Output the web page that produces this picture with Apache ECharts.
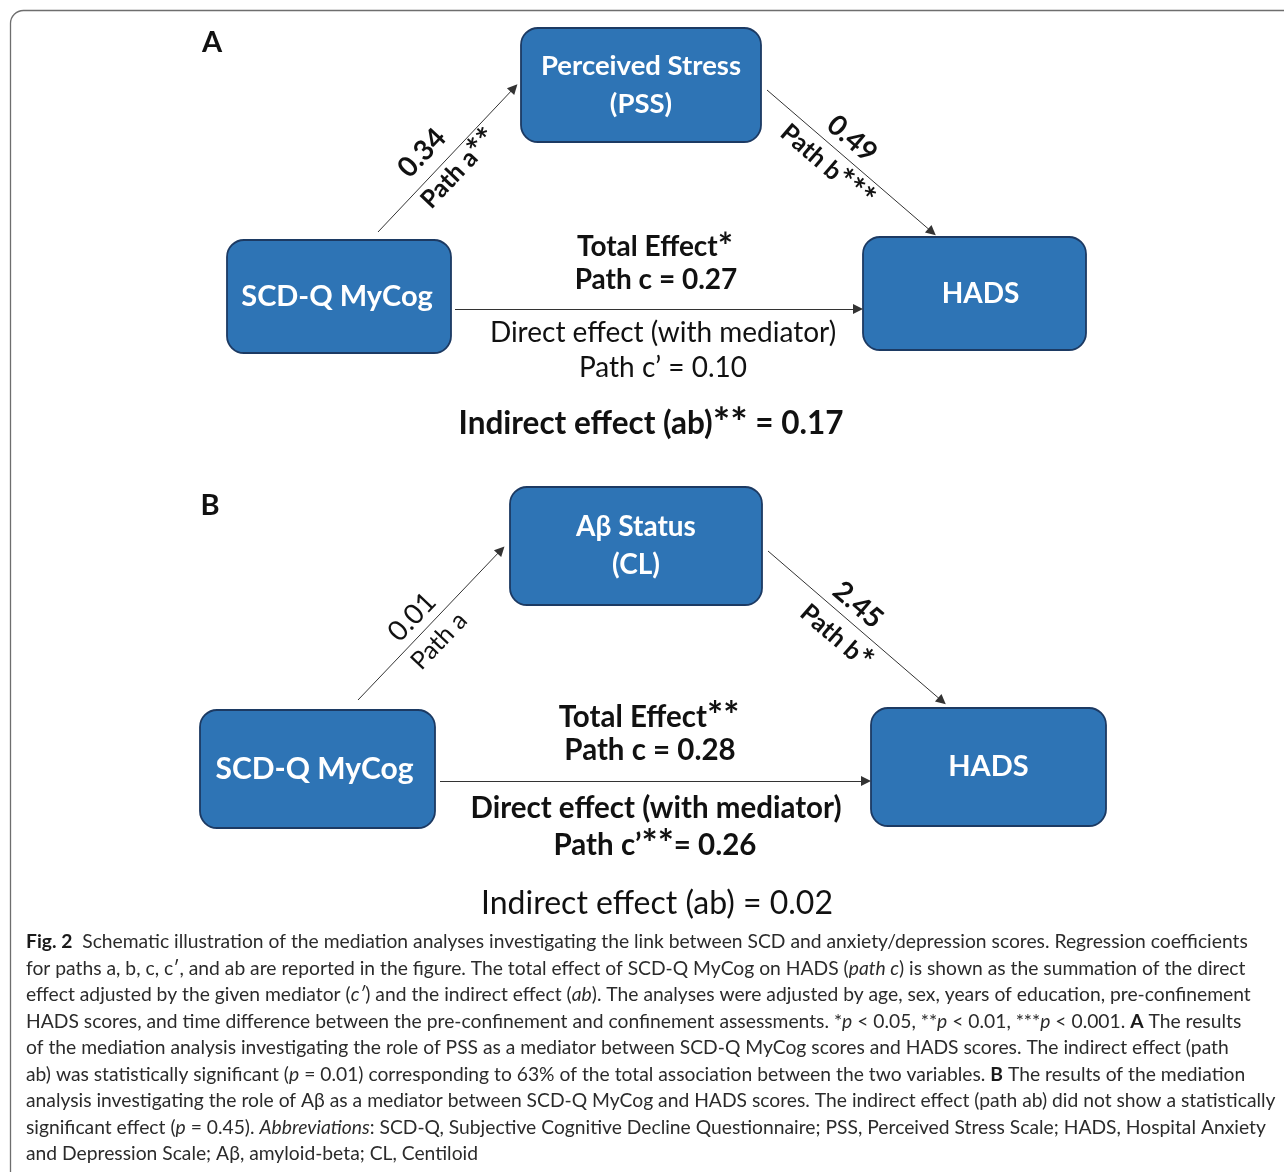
<!DOCTYPE html>
<html><head><meta charset="utf-8">
<script src="https://cdn.jsdelivr.net/npm/echarts@6/dist/echarts.min.js"></script>
<style>html,body{margin:0;padding:0;background:#fff}#c{width:1284px;height:1172px}</style>
</head><body><div id="c"></div>
<script>
// ---------------- data ----------------
const panels = ['A', 'B'];
const mediators = ['Perceived Stress\n(PSS)', 'Aβ Status\n(CL)'];
const predictors = ['SCD-Q MyCog', 'SCD-Q MyCog'];
const outcomes = ['HADS', 'HADS'];
const pathACoef = ['0.34', '0.01'];
const pathAName = ['Path a**', 'Path a'];
const pathBCoef = ['0.49', '2.45'];
const pathBName = ['Path b***', 'Path b*'];
const totalEffect = ['Total Effect*', 'Total Effect**'];
const pathC = ['Path c = 0.27', 'Path c = 0.28'];
const directEffect = ['Direct effect (with mediator)', 'Direct effect (with mediator)'];
const pathCPrime = ['Path c’ = 0.10', 'Path c’**= 0.26'];
const indirectEffect = ['Indirect effect (ab)** = 0.17', 'Indirect effect (ab) = 0.02'];
const captionLines = [
  '{b|Fig. 2}{n|  Schematic illustration of the mediation analyses investigating the link between SCD and anxiety/depression scores. Regression coefficients}',
  '{n|for paths a, b, c, c′, and ab are reported in the figure. The total effect of SCD-Q MyCog on HADS (}{i|path c}{n|) is shown as the summation of the direct}',
  '{n|effect adjusted by the given mediator (}{i|c′}{n|) and the indirect effect (}{i|ab}{n|). The analyses were adjusted by age, sex, years of education, pre-confinement}',
  '{n|HADS scores, and time difference between the pre-confinement and confinement assessments. *}{i|p}{n| < 0.05, **}{i|p}{n| < 0.01, ***}{i|p}{n| < 0.001. }{b|A}{n| The results}',
  '{n|of the mediation analysis investigating the role of PSS as a mediator between SCD-Q MyCog scores and HADS scores. The indirect effect (path}',
  '{n|ab) was statistically significant (}{i|p}{n| = 0.01) corresponding to 63% of the total association between the two variables. }{b|B}{n| The results of the mediation}',
  '{n|analysis investigating the role of Aβ as a mediator between SCD-Q MyCog and HADS scores. The indirect effect (path ab) did not show a statistically}',
  '{n|significant effect (}{i|p}{n| = 0.45). }{i|Abbreviations}{n|: SCD-Q, Subjective Cognitive Decline Questionnaire; PSS, Perceived Stress Scale; HADS, Hospital Anxiety}',
  '{n|and Depression Scale; Aβ, amyloid-beta; CL, Centiloid}'
];

// ---------------- layout (positions / styles) ----------------
const layout = [
  { // panel A
    letter: [212, 43],
    med: [521, 28, 761, 142], pred: [227, 240, 451, 353], out: [863, 237, 1086, 350],
    medOff: 0, predOff: -2, outOff: 6,
    arrA: [[378, 232], [514, 88]], arrB: [[767, 90], [932, 232]], arrC: [[455, 309], [858, 309]],
    coefA: [422, 153], nameA: [459, 169], rotA: 46.6,
    coefB: [852, 139], nameB: [827, 166], rotB: -40.6,
    boldA: true, boldB: true,
    total: [655, 247], pc: [656, 280], direct: [663, 333], pcp: [663, 368], directBold: false,
    indirect: [651, 424], indirectBold: true,
    medFont: 27.5, predFont: 29, outFont: 28,
    totFont: 28, dirFont: 28, indFont: 31.5
  },
  { // panel B
    letter: [210, 506],
    med: [510, 487, 762, 605], pred: [200, 710, 435, 828], out: [871, 708, 1106, 826],
    medOff: 0, predOff: -3, outOff: 0,
    arrA: [[358, 700], [501, 550]], arrB: [[768, 551], [942, 701]], arrC: [[440, 781], [866, 781]],
    coefA: [412, 617], nameA: [439, 641], rotA: 46.3,
    coefB: [858, 605], nameB: [836, 637], rotB: -40.7,
    boldA: false, boldB: true,
    total: [649, 717], pc: [650, 750], direct: [656, 808], pcp: [655, 845], directBold: true,
    indirect: [657, 904], indirectBold: false,
    medFont: 28, predFont: 30, outFont: 29,
    totFont: 29.5, dirFont: 29.5, indFont: 32
  }
];
const FONT = 'Lato';
const BOX_FILL = '#2E74B5';
const BOX_STROKE = '#1C3A63';
const INK = '#111111';

// ---------------- build marks ----------------
const boxes = [];
const texts = [];
const arrows = [];
panels.forEach((p, i) => {
  const L = layout[i];
  boxes.push({ r: L.med, label: mediators[i], size: L.medFont, off: L.medOff });
  boxes.push({ r: L.pred, label: predictors[i], size: L.predFont, off: L.predOff });
  boxes.push({ r: L.out, label: outcomes[i], size: L.outFont, off: L.outOff });
  arrows.push({ coords: L.arrA }, { coords: L.arrB }, { coords: L.arrC });
  texts.push({ p: L.letter, t: p, size: 29, bold: true, rot: 0 });
  texts.push({ p: L.coefA, t: pathACoef[i], size: 28, bold: L.boldA, rot: L.rotA });
  texts.push({ p: L.nameA, t: pathAName[i], size: 25, bold: L.boldA, rot: L.rotA });
  texts.push({ p: L.coefB, t: pathBCoef[i], size: 28, bold: L.boldB, rot: L.rotB });
  texts.push({ p: L.nameB, t: pathBName[i], size: 25, bold: L.boldB, rot: L.rotB });
  texts.push({ p: L.total, t: totalEffect[i], size: L.totFont, bold: true, rot: 0 });
  texts.push({ p: L.pc, t: pathC[i], size: L.totFont, bold: true, rot: 0 });
  texts.push({ p: L.direct, t: directEffect[i], size: L.dirFont, bold: L.directBold, rot: 0 });
  texts.push({ p: L.pcp, t: pathCPrime[i], size: L.dirFont, bold: L.directBold, rot: 0 });
  texts.push({ p: L.indirect, t: indirectEffect[i], size: L.indFont, bold: L.indirectBold, rot: 0 });
});

// asterisks drawn a little larger (as in the Calibri original)
function richStars(s) {
  return s.split(/(\*+)/).filter(x => x.length).map(x => x[0] === '*' ? '{s|' + x + '}' : '{t|' + x + '}').join('');
}

// caption font size fitted to the reference line width
const CAP_X = 26, CAP_Y0 = 942, CAP_DY = 26.5, CAP_W1 = 1222;
const CAP_FONT = 'Lato';
const ctx = document.createElement('canvas').getContext('2d');
ctx.font = '100px ' + CAP_FONT;
const plain1 = captionLines[0].replace(/\{\w+\|/g, '').replace(/\}/g, '');
let capSize = 100 * CAP_W1 / ctx.measureText(plain1).width;
capSize = Math.max(14, Math.min(20, capSize));

const chart = echarts.init(document.getElementById('c'), null, { renderer: 'canvas' });
chart.setOption({
  animation: false,
  backgroundColor: '#ffffff',
  grid: { left: 0, right: 0, top: 0, bottom: 0 },
  xAxis: { type: 'value', min: 0, max: 1284, show: false },
  yAxis: { type: 'value', min: 0, max: 1172, inverse: true, show: false },
  series: [
    { // outer frame
      type: 'custom', clip: false, silent: true, data: [[0]],
      renderItem: (params, api) => {
        const a = api.coord([10, 10]);
        const b = api.coord([1300, 1190]);
        return { type: 'rect', shape: { x: a[0] + 0.5, y: a[1] + 0.5, width: b[0] - a[0], height: b[1] - a[1], r: 13 },
          style: { fill: 'none', stroke: '#6e6e6e', lineWidth: 1.3 } };
      }
    },
    { // boxes
      type: 'custom', silent: true, data: boxes.map((b, k) => [k]),
      renderItem: (params, api) => {
        const b = boxes[params.dataIndex];
        const a = api.coord([b.r[0], b.r[1]]);
        const c = api.coord([b.r[2], b.r[3]]);
        return { type: 'group', children: [
          { type: 'rect', shape: { x: a[0], y: a[1], width: c[0] - a[0], height: c[1] - a[1], r: 17 },
            style: { fill: BOX_FILL, stroke: BOX_STROKE, lineWidth: 1.8 } },
          { type: 'text', x: (a[0] + c[0]) / 2 + b.off, y: (a[1] + c[1]) / 2,
            style: { text: b.label, fill: '#ffffff', font: 'bold ' + b.size + 'px ' + FONT,
              align: 'center', verticalAlign: 'middle', lineHeight: b.size * 1.36 } }
        ] };
      }
    },
    { // arrows
      type: 'lines', coordinateSystem: 'cartesian2d', silent: true,
      symbol: ['none', 'triangle'], symbolSize: [8, 10],
      lineStyle: { color: '#333333', width: 1, opacity: 1, curveness: 0 },
      data: arrows
    },
    { // texts
      type: 'custom', clip: false, silent: true, data: texts.map((t, k) => [k]),
      renderItem: (params, api) => {
        const t = texts[params.dataIndex];
        const p = api.coord(t.p);
        const w = t.bold ? 'bold ' : '';
        return { type: 'text', x: p[0], y: p[1], rotation: t.rot * Math.PI / 180,
          style: { text: richStars(t.t), fill: INK, font: w + t.size + 'px ' + FONT,
            align: 'center', verticalAlign: 'middle',
            rich: {
              t: { font: w + t.size + 'px ' + FONT, fill: INK, lineHeight: t.size * 1.2 },
              s: { font: w + Math.round(t.size * 1.3) + 'px ' + FONT, fill: INK, lineHeight: t.size * 1.2 }
            } } };
      }
    },
    { // caption
      type: 'custom', clip: false, silent: true, data: captionLines.map((l, k) => [k]),
      renderItem: (params, api) => {
        const k = params.dataIndex;
        const p = api.coord([CAP_X, CAP_Y0 + k * CAP_DY]);
        return { type: 'text', x: p[0], y: p[1],
          style: { text: captionLines[k], align: 'left', verticalAlign: 'middle',
            rich: {
              n: { font: capSize + 'px ' + CAP_FONT, fill: '#2b2b2b' },
              b: { font: 'bold ' + capSize + 'px ' + CAP_FONT, fill: '#1a1a1a' },
              i: { font: 'italic ' + capSize + 'px ' + CAP_FONT, fill: '#2b2b2b' }
            } } };
      }
    }
  ]
});
</script>
</body></html>
